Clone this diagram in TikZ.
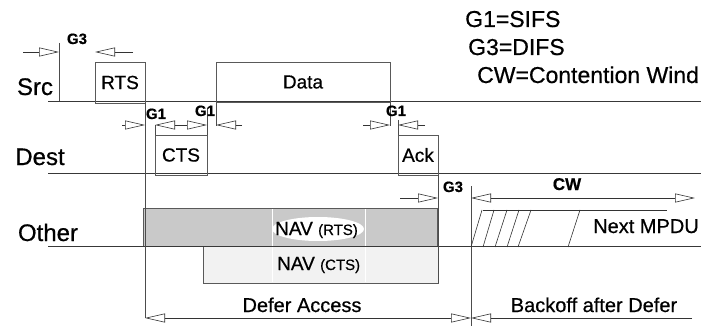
\documentclass[tikz,border=0pt]{standalone}
\usepackage{fontspec}
\setmainfont{Liberation Sans}[FakeBold=0.6]
\usetikzlibrary{arrows.meta}
\begin{document}
\begin{tikzpicture}[x=1pt,y=-1pt,
  base/.style={draw=black!78, line width=0.8pt},
  vline/.style={draw=black!70, line width=0.7pt},
  frame/.style={draw=black!65, line width=0.8pt, inner sep=0pt, outer sep=0pt},
  dimtip/.tip={Triangle[open,length=20pt,width=9pt]},
  dim/.style={draw=black!80, line width=0.6pt, -dimtip},
  twodim/.style={draw=black!80, line width=0.6pt, dimtip-dimtip},
  lab/.style={inner sep=0pt, anchor=base, font=\fontsize{24}{28}\selectfont},
  boxtxt/.style={font=\fontsize{19}{22}\selectfont},
  gap/.style={inner sep=0pt, anchor=base, font=\bfseries\fontsize{15}{17}\selectfont},
  legend/.style={inner sep=0pt, anchor=base west, font=\fontsize{23}{26}\selectfont},
  bottomtxt/.style={inner sep=0pt, anchor=base, font=\fontsize{20}{24}\selectfont},
  hatch/.style={draw=black!80, line width=0.6pt},
]
\useasboundingbox (0,0) rectangle (701,326);

% NAV boxes
\node[frame, fill=gray!42, anchor=north west, minimum width=294, minimum height=38] (navr) at (143,208) {};
\node[frame, fill=gray!10, anchor=north west, minimum width=235, minimum height=37] (navc) at (203,246) {};
\fill[white] (318,229) ellipse [x radius=46pt, y radius=12pt];
\draw[white, line width=0.7pt] (272,209) -- (272,282);
\draw[white, line width=0.7pt] (365,209) -- (365,282);
\node[inner sep=0pt, anchor=base west] (navrt) at (275,235) {\fontsize{19}{22}\selectfont NAV \fontsize{15}{18}\selectfont(RTS)};
\node[inner sep=0pt, anchor=base west] (navct) at (277,270) {\fontsize{19}{22}\selectfont NAV \fontsize{15}{18}\selectfont(CTS)};

% baselines
\coordinate (srcL) at (48,101); \coordinate (srcR) at (701,101);
\coordinate (dstL) at (48,173); \coordinate (dstR) at (701,173);
\coordinate (othL) at (48,246); \coordinate (othR) at (701,246);
\draw[base] (srcL) -- (srcR);
\draw[base] (dstL) -- (dstR);
\draw[base] (othL) -- (othR);

% frame boxes
\node[frame, boxtxt, anchor=north west, minimum width=50, minimum height=41] (rts) at (95,62) {RTS};
\node[frame, boxtxt, anchor=north west, minimum width=174, minimum height=40] (data) at (216,62) {Data};
\node[frame, boxtxt, anchor=north west, minimum width=52, minimum height=40] (cts) at (155,135) {CTS};
\node[frame, boxtxt, anchor=north west, minimum width=40, minimum height=40] (ack) at (398,135) {Ack};

% row labels
\node[lab] (src) at (35,95) {Src};
\node[lab] (dest) at (40,165) {Dest};
\node[lab] (other) at (48,241) {Other};

% vertical guide lines
\coordinate (g3v) at (59,43); \coordinate (g3vb) at (59,101);
\draw[vline] (g3v) -- (g3vb);
\coordinate (da) at (145,318);
\coordinate (db) at (471,318);
\coordinate (cwtop) at (471,186);
\coordinate (cwbot) at (471,326);
\draw[vline] (rts.south east) -- (da);
\draw[vline] (cts.north west) -- ++(0,-10);
\draw[vline] (cts.north east) -- ++(0,-27);
\draw[vline] (data.south west) -- ++(0,24);
\draw[vline] (data.south east) -- ++(0,24);
\draw[vline] (ack.north west) -- ++(0,-15);
\draw[vline] (ack.south east) -- (navc.south east);
\draw[vline] (cwtop) -- (cwbot);

% dimension arrows
\coordinate (a1) at (23,52);  \coordinate (a2) at (59,52);
\coordinate (a3) at (133,52); \coordinate (a4) at (95,52);
\draw[dim] (a1) -- (a2);
\draw[dim] (a3) -- (a4);
\coordinate (b1) at (122,125); \coordinate (b2) at (145,125);
\coordinate (b3) at (183,125); \coordinate (b4) at (155,125);
\coordinate (b5) at (207,125); \coordinate (b6) at (242,125);
\coordinate (b7) at (216,125); \coordinate (b8) at (363,125);
\coordinate (b9) at (390,125); \coordinate (b10) at (425,125);
\coordinate (b11) at (398,125);
\draw[dim] (b1) -- (b2);
\draw[dim] (b3) -- (b4);
\draw[dim] (b3) -- (b5);
\draw[dim] (b6) -- (b7);
\draw[dim] (b8) -- (b9);
\draw[dim] (b10) -- (b11);
\coordinate (c1) at (400,198); \coordinate (c2) at (438,198);
\coordinate (c3) at (471,198); \coordinate (c4) at (695,198);
\draw[dim] (c1) -- (c2);
\draw[twodim] (c3) -- (c4);
\coordinate (e1) at (692,318);
\draw[twodim] (da) -- (db);
\draw[dim] (e1) -- (db);

% gap labels
\node[gap] (lg3a) at (77,44) {G3};
\node[gap] (lg1a) at (156,119) {G1};
\node[gap] (lg1b) at (205,116) {G1};
\node[gap] (lg1c) at (396,116) {G1};
\node[gap] (lg3b) at (453,192) {G3};
\node[gap, font=\bfseries\fontsize{17}{20}\selectfont] (lcw) at (567,190) {CW};

% backoff hatch
\coordinate (h0) at (483,210); \coordinate (h1) at (667,210);
\draw[hatch] (h0) -- (h1);
\draw[hatch] (471,247) -- (482,210);
\draw[hatch] (483,247) -- (494,210);
\draw[hatch] (495,247) -- (507,210);
\draw[hatch] (507,247) -- (519,210);
\draw[hatch] (518,247) -- (531,210);
\draw[hatch] (568,247) -- (580,210);
\node[inner sep=0pt, anchor=base west, font=\fontsize{20}{24}\selectfont] (mpdu) at (593,233) {Next MPDU};

% legend
\node[legend] (leg1) at (465,27) {G1=SIFS};
\node[legend] (leg2) at (468,55) {G3=DIFS};
\node[legend] (leg3) at (477,83) {CW=Contention Wind};

% bottom labels
\node[bottomtxt] (defer) at (302,312) {Defer Access};
\node[bottomtxt] (backoff) at (594,312) {Backoff after Defer};
\end{tikzpicture}
\end{document}
